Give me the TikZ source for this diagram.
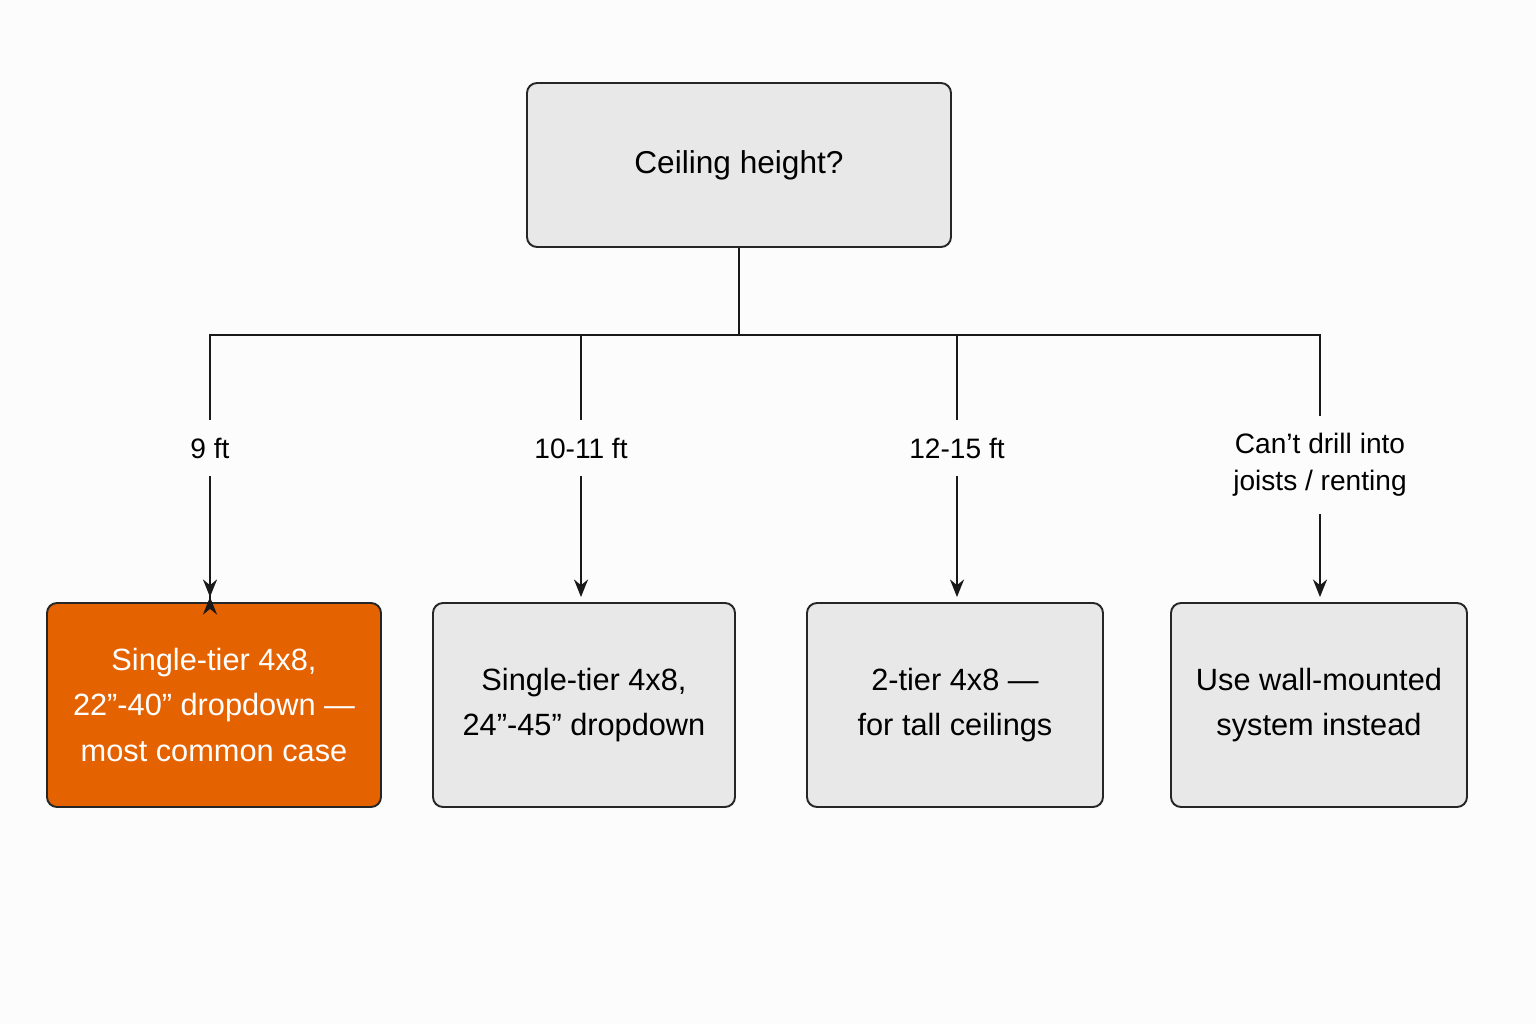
\documentclass[tikz,border=0pt]{standalone}
\usepackage{fontspec}
\setmainfont{Liberation Sans}
\usetikzlibrary{arrows.meta}

\begin{document}
\begin{tikzpicture}[x=0.02cm, y=-0.02cm,
  box/.style={draw=black!85, line width=1.1pt, rounded corners=0.2cm, fill=black!9},
  pick/.style={box, fill=orange!85!red!90!black, text=white},
  lab/.style={inner xsep=0pt, inner ysep=0.35cm, align=center, font=\fontsize{16}{21}\selectfont},
  link/.style={line width=1.1pt, black!90},
  arr/.style={link, -{Stealth[length=10pt, width=8pt]}}]

% Canvas
\fill[black!1] (0,0) rectangle (1536,1024);

% Question
\node[box, minimum width=424*0.02cm, minimum height=164*0.02cm, font=\fontsize{18}{22}\selectfont] (q) at (739,165) {Ceiling height?};
\coordinate (j) at (739,335);

% Branch labels
\node[lab] (l1) at (210,448) {9 ft};
\node[lab] (l2) at (581,448) {10-11 ft};
\node[lab] (l3) at (957,448) {12-15 ft};
\node[lab] (l4) at (1320,465) {Can’t drill into\\joists / renting};

% Answers
\tikzset{ans/.style={minimum height=204*0.02cm, align=center, font=\fontsize{17.5}{26}\selectfont}}
\node[pick, ans, minimum width=334*0.02cm] (a1) at (214,705) {Single-tier 4x8,\\22"-40" dropdown —\\most common case};
\node[box, ans, minimum width=302*0.02cm] (a2) at (584,705) {Single-tier 4x8,\\24"-45" dropdown};
\node[box, ans, minimum width=296*0.02cm] (a3) at (955,705) {2-tier 4x8 —\\for tall ceilings};
\node[box, ans, minimum width=296*0.02cm] (a4) at (1319,705) {Use wall-mounted\\system instead};

% Connectors
\draw[link] (q.south) -- (j);
\draw[link] (j) -| (l1.north);
\draw[link] (j) -| (l2.north);
\draw[link] (j) -| (l3.north);
\draw[link] (j) -| (l4.north);
\draw[arr] (l1.south) -- (a1.north -| l1.south) ++(0,-5);
\draw[arr] (l1.south) -- ([yshift=0.1cm]a1.north -| l1.south);
\draw[arr] (l2.south) -- ([yshift=0.1cm]a2.north -| l2.south);
\draw[arr] (l3.south) -- ([yshift=0.1cm]a3.north -| l3.south);
\draw[arr] (l4.south) -- ([yshift=0.1cm]a4.north -| l4.south);

\end{tikzpicture}
\end{document}
